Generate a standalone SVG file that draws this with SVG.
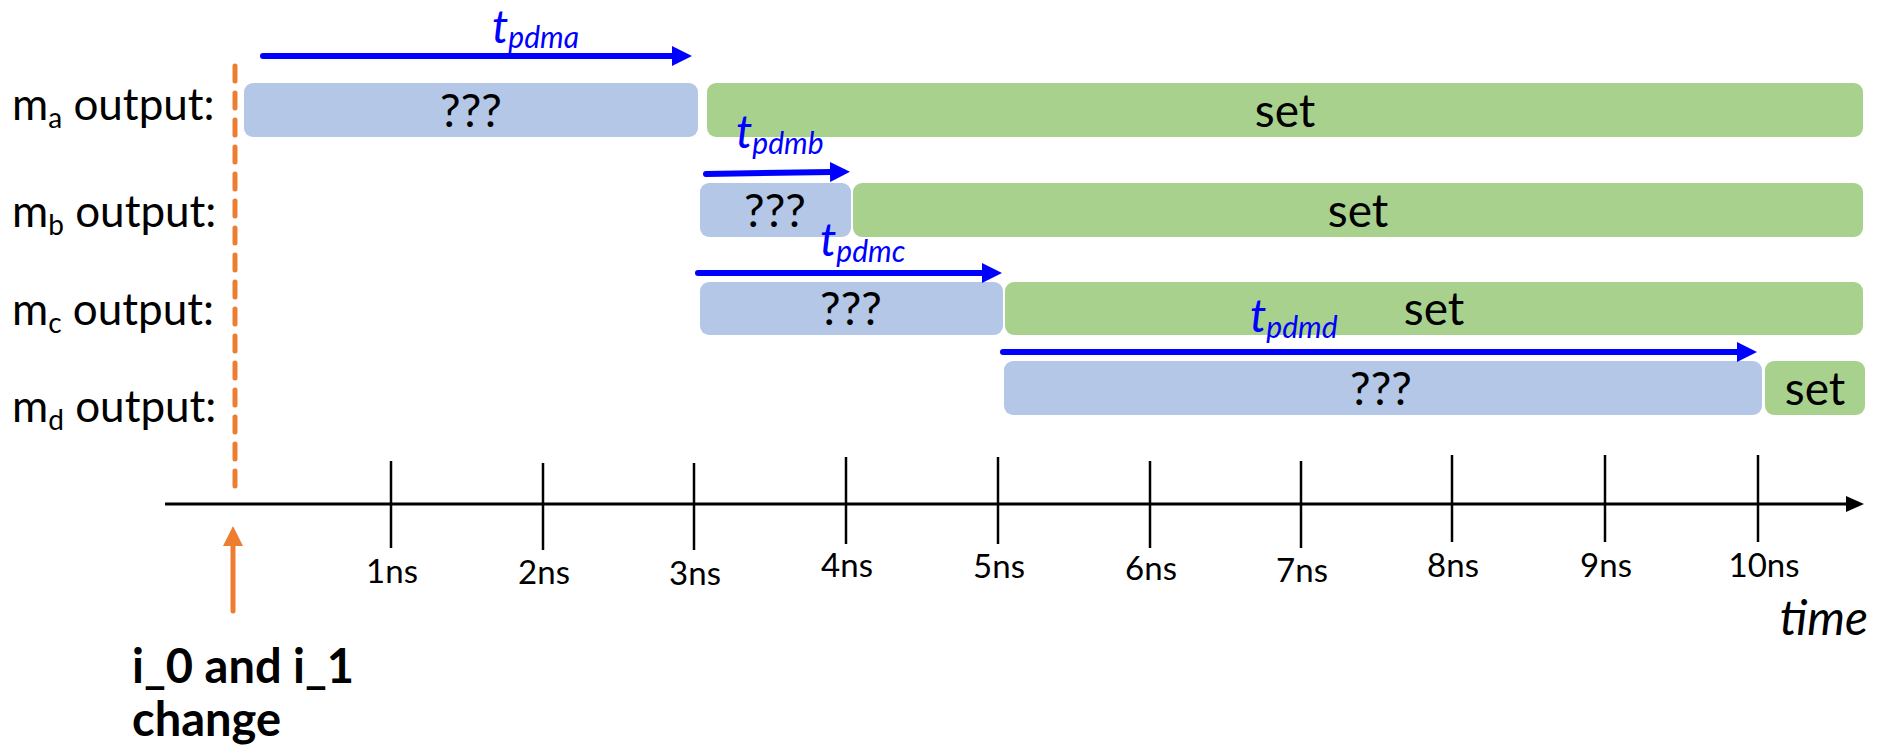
<svg xmlns="http://www.w3.org/2000/svg" width="1887" height="748" viewBox="0 0 1887 748">
  <defs>
    <style>
      .lbl { font-family: Lato, "Open Sans", "Liberation Sans", sans-serif; font-size: 44px; fill: #000; }
      .sub { font-size: 28px; }
      .val { font-family: Lato, "Open Sans", "Liberation Sans", sans-serif; font-size: 46px; fill: #000; text-anchor: middle; }
      .tick-lbl { font-family: Lato, "Open Sans", "Liberation Sans", sans-serif; font-size: 33px; fill: #000; text-anchor: middle; }
      .tpd { font-family: Lato, "Open Sans", "Liberation Sans", sans-serif; font-style: italic; fill: #0000FF; }
      .tpd-t { font-size: 46px; }
      .tpd-s { font-size: 30px; }
      .note { font-family: Lato, "Open Sans", "Liberation Sans", sans-serif; font-weight: bold; font-size: 47px; fill: #000; }
      .unknown { fill: #B4C7E7; }
      .settled { fill: #A9D18E; }
      .delay { stroke: #0000FF; stroke-width: 6; fill: none; stroke-linecap: round; }
      .tick { stroke: #000; stroke-width: 2.5; }
    </style>
    <marker id="blueHead" viewBox="0 0 20 20" refX="2" refY="10" markerWidth="20" markerHeight="20" markerUnits="userSpaceOnUse" orient="auto">
      <path d="M0,0 L20,10 L0,20 Z" fill="#0000FF"/>
    </marker>
    <marker id="axisHead" viewBox="0 0 18 16" refX="2" refY="8" markerWidth="18" markerHeight="16" markerUnits="userSpaceOnUse" orient="auto">
      <path d="M0,0 L18,8 L0,16 Z" fill="#000"/>
    </marker>
  </defs>

  <!-- signal row labels -->
  <g id="labels">
    <text class="lbl" x="12" y="120">m<tspan class="sub" dy="8">a</tspan><tspan dy="-8"> output:</tspan></text>
    <text class="lbl" x="12" y="227">m<tspan class="sub" dy="8">b</tspan><tspan dy="-8"> output:</tspan></text>
    <text class="lbl" x="12" y="325">m<tspan class="sub" dy="8">c</tspan><tspan dy="-8"> output:</tspan></text>
    <text class="lbl" x="12" y="422">m<tspan class="sub" dy="8">d</tspan><tspan dy="-8"> output:</tspan></text>
  </g>

  <!-- m_a -->
  <g id="row-a">
    <rect class="unknown" x="244" y="83" width="454" height="54" rx="9"/>
    <text class="val" x="471" y="127">???</text>
    <rect class="settled" x="707" y="83" width="1156" height="54" rx="9"/>
    <text class="val" x="1285" y="127">set</text>
  </g>

  <!-- m_b -->
  <g id="row-b">
    <rect class="unknown" x="700" y="183" width="151" height="54" rx="9"/>
    <text class="val" x="775" y="227">???</text>
    <rect class="settled" x="853" y="183" width="1010" height="54" rx="9"/>
    <text class="val" x="1358" y="227">set</text>
  </g>

  <!-- m_c -->
  <g id="row-c">
    <rect class="unknown" x="700" y="282" width="303" height="53" rx="9"/>
    <text class="val" x="851" y="325">???</text>
    <rect class="settled" x="1005" y="282" width="858" height="53" rx="9"/>
    <text class="val" x="1434" y="325">set</text>
  </g>

  <!-- m_d -->
  <g id="row-d">
    <rect class="unknown" x="1004" y="361" width="758" height="54" rx="9"/>
    <text class="val" x="1381" y="405">???</text>
    <rect class="settled" x="1765" y="361" width="100" height="54" rx="9"/>
    <text class="val" x="1815" y="405">set</text>
  </g>

  <!-- propagation delay arrows -->
  <g id="connectors">
    <line class="delay" x1="263" y1="56" x2="674" y2="56" marker-end="url(#blueHead)"/>
    <line class="delay" x1="706" y1="174" x2="832" y2="172" marker-end="url(#blueHead)"/>
    <line class="delay" x1="698" y1="273" x2="984" y2="273" marker-end="url(#blueHead)"/>
    <line class="delay" x1="1003" y1="352" x2="1739" y2="352" marker-end="url(#blueHead)"/>
  </g>
  <g id="delay-labels">
    <text class="tpd" x="492" y="43"><tspan class="tpd-t">t</tspan><tspan class="tpd-s" dy="5">pdma</tspan></text>
    <text class="tpd" x="736" y="148"><tspan class="tpd-t">t</tspan><tspan class="tpd-s" dy="6">pdmb</tspan></text>
    <text class="tpd" x="820" y="256"><tspan class="tpd-t">t</tspan><tspan class="tpd-s" dy="6">pdmc</tspan></text>
    <text class="tpd" x="1250" y="332"><tspan class="tpd-t">t</tspan><tspan class="tpd-s" dy="6">pdmd</tspan></text>
  </g>

  <!-- input change marker -->
  <g id="input-change">
    <line x1="235" y1="66" x2="235" y2="493" stroke="#ED7D31" stroke-width="5" stroke-linecap="round" stroke-dasharray="15 12"/>
    <line x1="233" y1="611" x2="233" y2="545" stroke="#ED7D31" stroke-width="5" stroke-linecap="round"/>
    <path d="M233,526 L243,546 L223,546 Z" fill="#ED7D31"/>
    <text class="note" x="132" y="683">i_0 and i_1</text>
    <text class="note" x="132" y="736">change</text>
  </g>

  <!-- time axis -->
  <g id="axis">
    <line x1="165" y1="504" x2="1848" y2="504" stroke="#000" stroke-width="3" marker-end="url(#axisHead)"/>
    <line class="tick" x1="391" y1="461" x2="391" y2="548"/>
    <line class="tick" x1="543" y1="463" x2="543" y2="550"/>
    <line class="tick" x1="694" y1="463" x2="694" y2="550"/>
    <line class="tick" x1="846" y1="457" x2="846" y2="544"/>
    <line class="tick" x1="998" y1="457" x2="998" y2="544"/>
    <line class="tick" x1="1150" y1="461" x2="1150" y2="548"/>
    <line class="tick" x1="1301" y1="461" x2="1301" y2="548"/>
    <line class="tick" x1="1452" y1="455" x2="1452" y2="542"/>
    <line class="tick" x1="1605" y1="455" x2="1605" y2="542"/>
    <line class="tick" x1="1758" y1="455" x2="1758" y2="542"/>
    <text class="tick-lbl" x="392" y="583">1ns</text>
    <text class="tick-lbl" x="544" y="584">2ns</text>
    <text class="tick-lbl" x="695" y="585">3ns</text>
    <text class="tick-lbl" x="847" y="577">4ns</text>
    <text class="tick-lbl" x="999" y="578">5ns</text>
    <text class="tick-lbl" x="1151" y="580">6ns</text>
    <text class="tick-lbl" x="1302" y="582">7ns</text>
    <text class="tick-lbl" x="1453" y="577">8ns</text>
    <text class="tick-lbl" x="1606" y="577">9ns</text>
    <text class="tick-lbl" x="1764" y="577">10ns</text>
    <text x="1868" y="635" text-anchor="end" font-family="Lato, 'Open Sans', 'Liberation Sans', sans-serif" font-style="italic" font-size="48">time</text>
  </g>
</svg>
